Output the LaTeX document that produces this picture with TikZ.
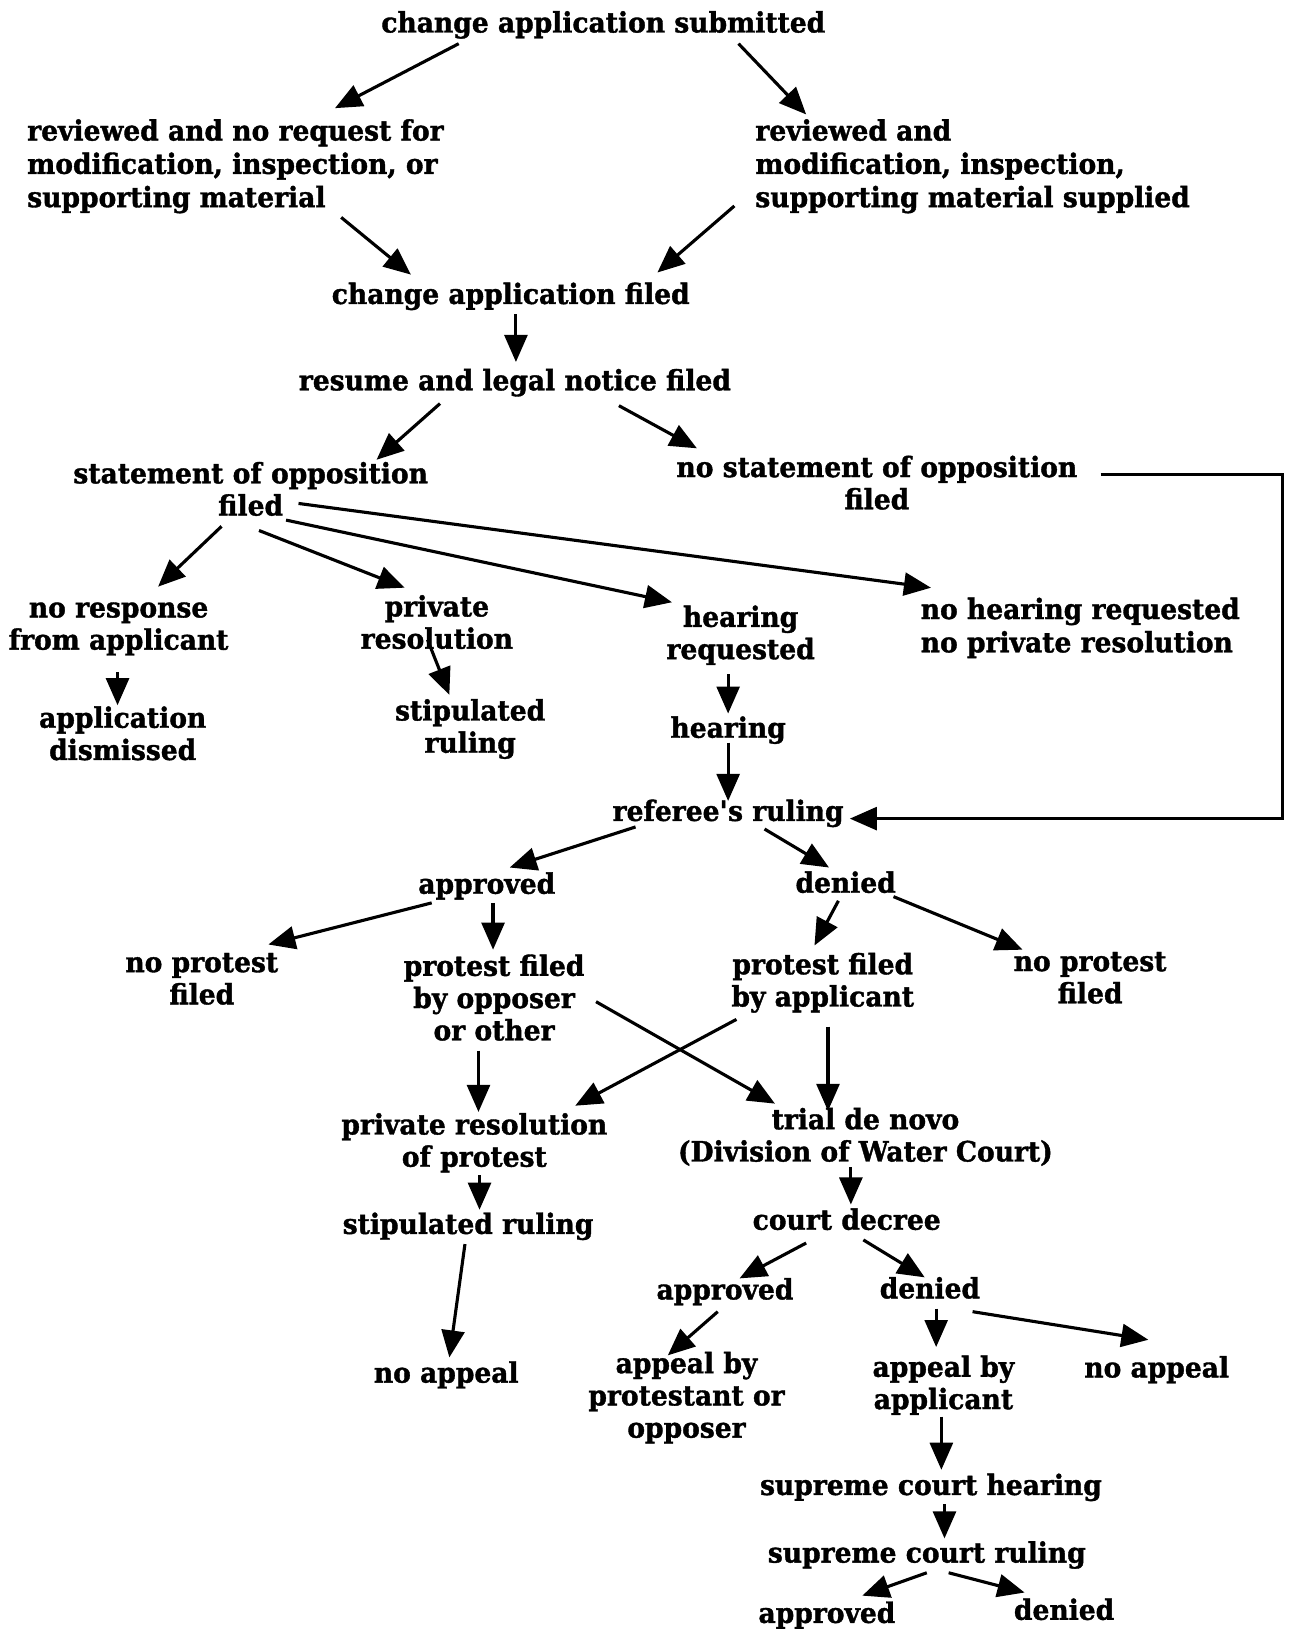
\documentclass[tikz,border=0pt]{standalone}
\usepackage{fontspec}
\setmainfont{DejaVu Serif}[BoldFeatures={FakeStretch=0.945, FakeBold=1.3}]
\usetikzlibrary{arrows.meta}
% a strut that sits the text a little lower in its box
\newcommand\lowstrut{\rule[-6.3pt]{0pt}{31pt}}
\begin{document}
\begin{tikzpicture}[x=1pt,y=-1pt,
  lbl/.style={inner sep=0pt, align=center,
    font=\bfseries\fontsize{27}{31}\selectfont,
    execute at begin node=\lowstrut, execute at end node=\lowstrut},
  lleft/.style={lbl, align=left, anchor=west,
    font=\bfseries\fontsize{27}{32}\selectfont},
  arr/.style={line width=3pt, -{Triangle[length=26pt,width=22pt]}},
  elbow/.style={arr},
]
\fill[white] (0,0) rectangle (1243,1568);
\useasboundingbox (0,0) rectangle (1243,1568);

% --- application stage ---
\node[lbl] (sub) at (580,22) {change application submitted};
\node[lleft] (revA) at (26,160) {reviewed and no request for\\modification, inspection, or\\supporting material};
\node[lleft] (revB) at (726,160) {reviewed and\\modification, inspection,\\supporting material supplied};
\node[lbl] (filed) at (491,283) {change application filed};
\node[lbl] (resume) at (495,366) {resume and legal notice filed};

% --- opposition stage ---
\node[lbl] (stmt) at (241,473) {statement of opposition\\filed};
\node[lbl] (nostmt) at (843,467) {no statement of opposition\\filed};
\node[lbl] (noresp) at (114,605) {no response\\from applicant};
\node[lbl] (privres) at (420,601) {private\\resolution};
\node[lbl] (hreq) at (712,611) {hearing\\requested};
\node[lleft] (nohreq) at (885,604) {no hearing requested\\no private resolution};
\node[lbl] (dism) at (118,708) {application\\dismissed};
\node[lbl] (stip1) at (452,701) {stipulated\\ruling};
\node[lbl] (hearing) at (700,700) {hearing};
\node[lbl] (referee) at (700,780) {referee\textquotesingle s ruling};

% --- referee's ruling outcomes ---
\node[lbl] (appr1) at (468,850) {approved};
\node[lbl] (den1) at (813,849) {denied};
\node[lbl] (noprotL) at (194,944) {no protest\\filed};
\node[lbl] (protOpp) at (475,962) {protest filed\\by opposer\\or other};
\node[lbl] (protApp) at (791,945) {protest filed\\by applicant};
\node[lbl] (noprotR) at (1048,943) {no protest\\filed};
\node[lbl] (privprot) at (456,1099) {private resolution\\of protest};
\node[lbl] (trial) at (832,1094) {trial de novo\\(Division of Water Court)};
\node[lbl] (stip2) at (450,1177) {stipulated ruling};
\node[lbl] (decree) at (814,1173) {court decree};

% --- water court and appeals ---
\node[lbl] (appr2) at (697,1240) {approved};
\node[lbl] (den2) at (894,1239) {denied};
\node[lbl] (noappL) at (429,1320) {no appeal};
\node[lbl] (appProt) at (660,1344) {appeal by\\protestant or\\opposer};
\node[lbl] (appApp) at (907,1332) {appeal by\\applicant};
\node[lbl] (noappR) at (1112,1315) {no appeal};
\node[lbl] (schear) at (895,1428) {supreme court hearing};
\node[lbl] (scrule) at (891,1493) {supreme court ruling};
\node[lbl] (appr3) at (795,1551) {approved};
\node[lbl] (den3) at (1023,1548) {denied};

% --- connectors ---
\draw[arr] ([shift={(-139,20)}]sub.center) -- ([shift={(296,-56)}]revA.west);
\draw[arr] ([shift={(130,20)}]sub.center) -- ([shift={(49,-50)}]revB.west);
\draw[arr] ([shift={(302,49)}]revA.west) -- ([shift={(-96,-19)}]filed.center);
\draw[arr] ([shift={(-20,38)}]revB.west) -- ([shift={(141,-21)}]filed.center);
\draw[arr] ([shift={(5,19)}]filed.center) -- ([shift={(1,-18)}]resume.center);
\draw[arr] ([shift={(-72,22)}]resume.center) -- ([shift={(121,-31)}]stmt.center);
\draw[arr] ([shift={(100,24)}]resume.center) -- ([shift={(-173,-36)}]nostmt.center);

\draw[arr] ([shift={(-28,33)}]stmt.center) -- ([shift={(38,-41)}]noresp.center);
\draw[arr] ([shift={(8,37)}]stmt.center) -- ([shift={(-31,-36)}]privres.center);
\draw[arr] ([shift={(34,27)}]stmt.center) -- ([shift={(-66,-32)}]hreq.center);
\draw[arr] ([shift={(46,11)}]stmt.center) -- ([shift={(10,-39)}]nohreq.west);
\draw[arr] ([shift={(-1,41)}]noresp.center) -- ([shift={(-5,-30)}]dism.center);
\draw[arr] ([shift={(-9,14)}]privres.center) -- ([shift={(-20,-33)}]stip1.center);
\draw[arr] ([shift={(-12,37)}]hreq.center) -- ([shift={(0,-14)}]hearing.center);
\draw[arr] ([shift={(0,14)}]hearing.center) -- ([shift={(0,-10)}]referee.center);
\coordinate (loopTop) at ([shift={(215,-11)}]nostmt.center);
\draw[elbow] (loopTop) -- ++(175,0) |- ([shift={(117,7)}]referee.center);

\draw[arr] ([shift={(-89,15)}]referee.center) -- ([shift={(22,-16)}]appr1.center);
\draw[arr] ([shift={(35,17)}]referee.center) -- ([shift={(-16,-15)}]den1.center);
\draw[arr] ([shift={(-53,18)}]appr1.center) -- ([shift={(64,-36)}]noprotL.center);
\draw[arr] ([shift={(6,18)}]appr1.center) -- ([shift={(-1,-49)}]protOpp.center);
\draw[arr] ([shift={(-7,17)}]den1.center) -- ([shift={(-8,-36)}]protApp.center);
\draw[arr] ([shift={(46,13)}]den1.center) -- ([shift={(-65,-30)}]noprotR.center);
\draw[arr] ([shift={(98,1)}]protOpp.center) -- ([shift={(-87,-33)}]trial.center);
\draw[arr] ([shift={(-83,35)}]protApp.center) -- ([shift={(97,-36)}]privprot.center);
\draw[arr] ([shift={(-15,48)}]protOpp.center) -- ([shift={(4,-30)}]privprot.center);
\draw[arr] ([shift={(5,42)}]protApp.center) -- ([shift={(-36,-26)}]trial.center);
\draw[arr] ([shift={(5,31)}]privprot.center) -- ([shift={(11,-14)}]stip2.center);
\draw[arr] ([shift={(-14,28)}]trial.center) -- ([shift={(4,-15)}]decree.center);
\draw[arr] ([shift={(-3,19)}]stip2.center) -- ([shift={(3,-15)}]noappL.center);

\draw[arr] ([shift={(-39,22)}]decree.center) -- ([shift={(14,-11)}]appr2.center);
\draw[arr] ([shift={(16,19)}]decree.center) -- ([shift={(-5,-11)}]den2.center);
\draw[arr] ([shift={(-7,21)}]appr2.center) -- ([shift={(-18,-41)}]appProt.center);
\draw[arr] ([shift={(6,19)}]den2.center) -- ([shift={(-7,-37)}]appApp.center);
\draw[arr] ([shift={(41,22)}]den2.center) -- ([shift={(-8,-27)}]noappR.center);
\draw[arr] ([shift={(-2,30)}]appApp.center) -- ([shift={(10,-15)}]schear.center);
\draw[arr] ([shift={(13,18)}]schear.center) -- ([shift={(17,-14)}]scrule.center);
\draw[arr] ([shift={(0,19)}]scrule.center) -- ([shift={(34,-17)}]appr3.center);
\draw[arr] ([shift={(21,19)}]scrule.center) -- ([shift={(-38,-17)}]den3.center);
\end{tikzpicture}
\end{document}
